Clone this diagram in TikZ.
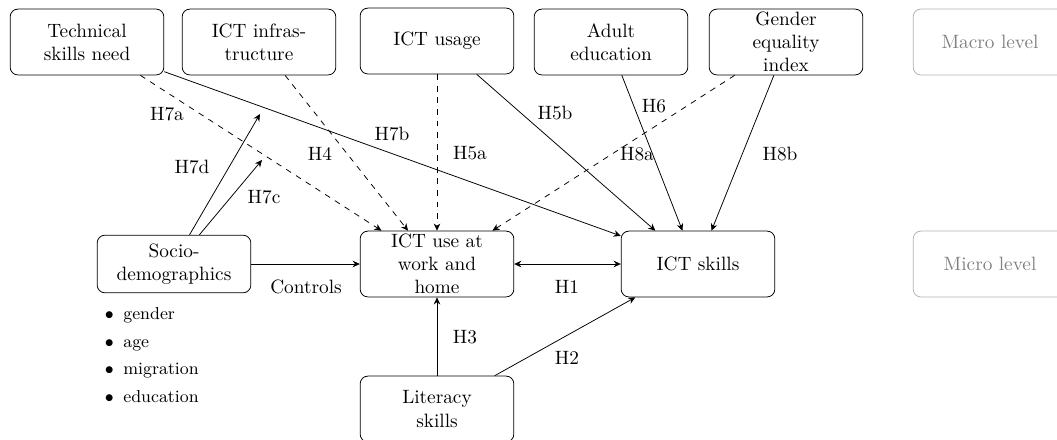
\documentclass[tikz,border=0pt]{standalone}
\usepackage{tikz}
\usetikzlibrary{arrows.meta,positioning}
\tikzset{
  bx/.style={draw, rounded corners=4pt, align=center, minimum width=2.8cm, minimum height=1.2cm, inner ysep=1pt},
  sbx/.style={bx, minimum height=1.05cm},
  lvl/.style={bx, draw=gray!60, text=gray},
  hyp/.style={-{Stealth[length=1.3mm,width=1.2mm]}},
  dhyp/.style={hyp, dashed},
  blist/.style={font=\small, align=left, anchor=west},
}

\begin{document}
\begin{tikzpicture}[x=0.5185pt,y=-0.5185pt]
\useasboundingbox (0,0) rectangle (1057,439);
% macro level
\node[bx] (tech) at (87,42) {Technical\\skills need};
\node[bx] (infra) at (259,42) {ICT infras-\\tructure};
\node[bx] (usage) at (437,41) {ICT usage};
\node[bx] (adult) at (611,42) {Adult\\education};
\node[bx] (gend) at (786,42) {Gender\\equality\\index};
\node[lvl] (macro) at (990,42) {Macro level};
% micro level
\node[sbx] (socio) at (174,264) {Socio-\\demographics};
\node[bx] (icu) at (437,264) {ICT use at\\work and\\home};
\node[bx] (sk) at (698,264) {ICT skills};
\node[lvl] (micro) at (990,264) {Micro level};
\node[bx] (lit) at (437,409) {Literacy\\skills};
\node[blist] (soclist) at (98,355)
  {$\bullet$\hspace{5pt}gender\\[3.3pt] $\bullet$\hspace{5pt}age\\[3.3pt]
   $\bullet$\hspace{5pt}migration\\[3.3pt] $\bullet$\hspace{5pt}education};
\coordinate (m7d) at (260,114);
\coordinate (m7c) at (262,160);

\draw[dhyp] (tech.-32) -- (icu.149);
\draw[hyp] (tech.-21) -- (sk.160);
\draw[dhyp] (infra.-52) -- (icu.131);
\draw[dhyp] (usage.south) -- (icu.north);
\draw[hyp] (usage.-40) -- (sk.142);
\draw[hyp] (adult.-72) -- (sk.115);
\draw[dhyp] (gend.-147) -- (icu.31);
\draw[hyp] (gend.-110) -- (sk.68);
\draw[hyp] (socio.62) -- (m7d);
\draw[hyp] (socio.49) -- (m7c);
\draw[hyp] (socio.east) -- (icu.west);
\draw[{Stealth[length=1.3mm,width=1.2mm]}-{Stealth[length=1.3mm,width=1.2mm]}] (icu.east) -- (sk.west);
\draw[hyp] (lit.north) -- (icu.south);
\draw[hyp] (lit.30) -- (sk.-152);

\node (h7a) at (167,114) {H7a};
\node (h7b) at (392,134) {H7b};
\node (h4) at (320,154) {H4};
\node (h5a) at (470,153) {H5a};
\node (h5b) at (555,113) {H5b};
\node (h6) at (654,106) {H6};
\node (h8a) at (637,154) {H8a};
\node (h8b) at (780,154) {H8b};
\node (h7d) at (192,167) {H7d};
\node (h7c) at (264,197) {H7c};
\node (ctrl) at (306,287) {Controls};
\node (h1) at (567,287) {H1};
\node (h3) at (465,337) {H3};
\node (h2) at (567,358) {H2};
\end{tikzpicture}
\end{document}
